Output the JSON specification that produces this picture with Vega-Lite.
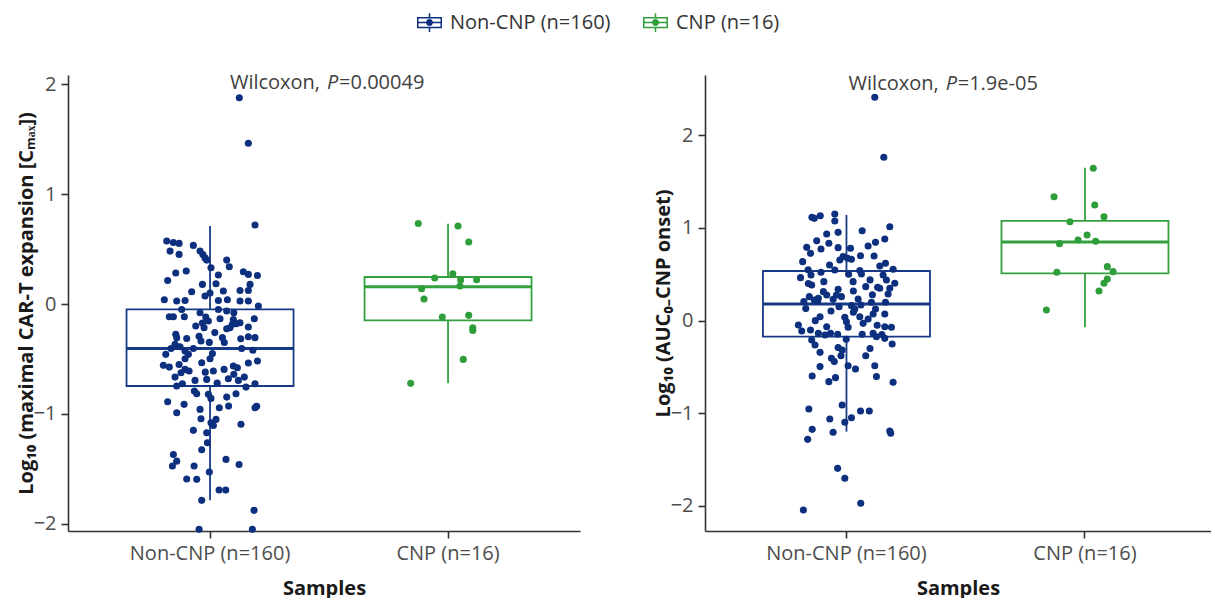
{
  "$schema": "https://vega.github.io/schema/vega-lite/v6.json",
  "padding": {"left": 16, "top": 10, "right": 0, "bottom": 0},
  "spacing": 32,
  "resolve": {"legend": {"color": "independent"}},
  "datasets": {
    "p1": [
      {"g":"Non-CNP (n=160)","v":1.878,"j":0.123},{"g":"Non-CNP (n=160)","v":1.463,"j":0.161},{"g":"Non-CNP (n=160)","v":0.719,"j":0.189},
      {"g":"Non-CNP (n=160)","v":0.574,"j":-0.182},{"g":"Non-CNP (n=160)","v":0.56,"j":-0.154},{"g":"Non-CNP (n=160)","v":0.552,"j":-0.13},
      {"g":"Non-CNP (n=160)","v":0.534,"j":-0.07},{"g":"Non-CNP (n=160)","v":0.482,"j":-0.168},{"g":"Non-CNP (n=160)","v":0.452,"j":-0.13},
      {"g":"Non-CNP (n=160)","v":0.482,"j":-0.042},{"g":"Non-CNP (n=160)","v":0.45,"j":-0.03},{"g":"Non-CNP (n=160)","v":0.42,"j":-0.021},
      {"g":"Non-CNP (n=160)","v":0.4,"j":-0.014},{"g":"Non-CNP (n=160)","v":0.33,"j":0.004},{"g":"Non-CNP (n=160)","v":0.264,"j":0.035},
      {"g":"Non-CNP (n=160)","v":0.4,"j":0.07},{"g":"Non-CNP (n=160)","v":0.34,"j":0.081},{"g":"Non-CNP (n=160)","v":0.294,"j":0.14},
      {"g":"Non-CNP (n=160)","v":0.27,"j":0.161},{"g":"Non-CNP (n=160)","v":0.26,"j":0.199},{"g":"Non-CNP (n=160)","v":0.282,"j":-0.144},
      {"g":"Non-CNP (n=160)","v":0.215,"j":-0.178},{"g":"Non-CNP (n=160)","v":0.179,"j":-0.032},{"g":"Non-CNP (n=160)","v":0.185,"j":0.025},
      {"g":"Non-CNP (n=160)","v":0.179,"j":0.168},{"g":"Non-CNP (n=160)","v":0.124,"j":0.126},{"g":"Non-CNP (n=160)","v":0.124,"j":0.161},
      {"g":"Non-CNP (n=160)","v":0.112,"j":-0.077},{"g":"Non-CNP (n=160)","v":0.118,"j":0.056},{"g":"Non-CNP (n=160)","v":0.073,"j":-0.021},
      {"g":"Non-CNP (n=160)","v":0.039,"j":-0.192},{"g":"Non-CNP (n=160)","v":0.027,"j":-0.14},{"g":"Non-CNP (n=160)","v":0.033,"j":-0.105},
      {"g":"Non-CNP (n=160)","v":0.033,"j":0.035},{"g":"Non-CNP (n=160)","v":0.039,"j":0.073},{"g":"Non-CNP (n=160)","v":0.027,"j":0.126},
      {"g":"Non-CNP (n=160)","v":0.027,"j":0.161},{"g":"Non-CNP (n=160)","v":-0.018,"j":0.203},{"g":"Non-CNP (n=160)","v":-0.049,"j":0.035},
      {"g":"Non-CNP (n=160)","v":-0.049,"j":-0.119},{"g":"Non-CNP (n=160)","v":-0.079,"j":-0.042},{"g":"Non-CNP (n=160)","v":-0.064,"j":0.07},
      {"g":"Non-CNP (n=160)","v":-0.115,"j":-0.171},{"g":"Non-CNP (n=160)","v":-0.115,"j":-0.154},{"g":"Non-CNP (n=160)","v":-0.115,"j":-0.108},
      {"g":"Non-CNP (n=160)","v":-0.118,"j":-0.018},{"g":"Non-CNP (n=160)","v":-0.134,"j":0.042},{"g":"Non-CNP (n=160)","v":-0.14,"j":0.098},
      {"g":"Non-CNP (n=160)","v":-0.134,"j":0.186},{"g":"Non-CNP (n=160)","v":-0.185,"j":0.094},{"g":"Non-CNP (n=160)","v":-0.17,"j":0.126},
      {"g":"Non-CNP (n=160)","v":-0.209,"j":0.161},{"g":"Non-CNP (n=160)","v":-0.173,"j":-0.032},{"g":"Non-CNP (n=160)","v":-0.155,"j":-0.007},
      {"g":"Non-CNP (n=160)","v":-0.215,"j":-0.025},{"g":"Non-CNP (n=160)","v":-0.215,"j":0.084},{"g":"Non-CNP (n=160)","v":-0.225,"j":0.07},
      {"g":"Non-CNP (n=160)","v":-0.276,"j":-0.144},{"g":"Non-CNP (n=160)","v":-0.306,"j":-0.14},{"g":"Non-CNP (n=160)","v":-0.294,"j":-0.046},
      {"g":"Non-CNP (n=160)","v":-0.313,"j":-0.098},{"g":"Non-CNP (n=160)","v":-0.306,"j":0.052},{"g":"Non-CNP (n=160)","v":-0.316,"j":0.129},
      {"g":"Non-CNP (n=160)","v":-0.297,"j":0.161},{"g":"Non-CNP (n=160)","v":-0.306,"j":0.189},{"g":"Non-CNP (n=160)","v":-0.337,"j":-0.038},
      {"g":"Non-CNP (n=160)","v":-0.349,"j":-0.003},{"g":"Non-CNP (n=160)","v":-0.367,"j":-0.147},{"g":"Non-CNP (n=160)","v":-0.388,"j":-0.126},
      {"g":"Non-CNP (n=160)","v":-0.404,"j":-0.164},{"g":"Non-CNP (n=160)","v":-0.404,"j":-0.07},{"g":"Non-CNP (n=160)","v":-0.428,"j":-0.105},
      {"g":"Non-CNP (n=160)","v":-0.404,"j":0.133},{"g":"Non-CNP (n=160)","v":-0.458,"j":-0.186},{"g":"Non-CNP (n=160)","v":-0.458,"j":-0.091},
      {"g":"Non-CNP (n=160)","v":-0.498,"j":-0.105},{"g":"Non-CNP (n=160)","v":-0.498,"j":0.0},{"g":"Non-CNP (n=160)","v":-0.558,"j":-0.196},
      {"g":"Non-CNP (n=160)","v":-0.574,"j":-0.171},{"g":"Non-CNP (n=160)","v":-0.534,"j":-0.035},{"g":"Non-CNP (n=160)","v":-0.595,"j":-0.105},
      {"g":"Non-CNP (n=160)","v":-0.625,"j":-0.122},{"g":"Non-CNP (n=160)","v":-0.61,"j":-0.088},{"g":"Non-CNP (n=160)","v":-0.61,"j":0.014},
      {"g":"Non-CNP (n=160)","v":-0.595,"j":0.059},{"g":"Non-CNP (n=160)","v":-0.564,"j":0.098},{"g":"Non-CNP (n=160)","v":-0.58,"j":0.115},
      {"g":"Non-CNP (n=160)","v":-0.537,"j":0.161},{"g":"Non-CNP (n=160)","v":-0.519,"j":0.199},{"g":"Non-CNP (n=160)","v":-0.665,"j":-0.147},
      {"g":"Non-CNP (n=160)","v":-0.695,"j":-0.063},{"g":"Non-CNP (n=160)","v":-0.686,"j":-0.014},{"g":"Non-CNP (n=160)","v":-0.68,"j":0.077},
      {"g":"Non-CNP (n=160)","v":-0.695,"j":0.119},{"g":"Non-CNP (n=160)","v":-0.665,"j":0.144},{"g":"Non-CNP (n=160)","v":-0.725,"j":0.189},
      {"g":"Non-CNP (n=160)","v":-0.725,"j":-0.116},{"g":"Non-CNP (n=160)","v":-0.746,"j":-0.14},{"g":"Non-CNP (n=160)","v":-0.756,"j":0.151},
      {"g":"Non-CNP (n=160)","v":-0.792,"j":-0.066},{"g":"Non-CNP (n=160)","v":-0.816,"j":-0.056},{"g":"Non-CNP (n=160)","v":-0.822,"j":-0.007},
      {"g":"Non-CNP (n=160)","v":-0.859,"j":0.004},{"g":"Non-CNP (n=160)","v":-0.816,"j":0.109},{"g":"Non-CNP (n=160)","v":-0.847,"j":0.07},
      {"g":"Non-CNP (n=160)","v":-0.889,"j":-0.178},{"g":"Non-CNP (n=160)","v":-0.913,"j":-0.109},{"g":"Non-CNP (n=160)","v":-0.944,"j":0.039},
      {"g":"Non-CNP (n=160)","v":-0.929,"j":0.078},{"g":"Non-CNP (n=160)","v":-0.944,"j":0.189},{"g":"Non-CNP (n=160)","v":-0.93,"j":0.196},
      {"g":"Non-CNP (n=160)","v":-0.989,"j":-0.14},{"g":"Non-CNP (n=160)","v":-0.959,"j":-0.042},{"g":"Non-CNP (n=160)","v":-1.044,"j":-0.038},
      {"g":"Non-CNP (n=160)","v":-1.05,"j":0.025},{"g":"Non-CNP (n=160)","v":-1.08,"j":0.004},{"g":"Non-CNP (n=160)","v":-1.105,"j":0.014},
      {"g":"Non-CNP (n=160)","v":-1.095,"j":0.13},{"g":"Non-CNP (n=160)","v":-1.15,"j":-0.07},{"g":"Non-CNP (n=160)","v":-1.171,"j":-0.014},
      {"g":"Non-CNP (n=160)","v":-1.262,"j":-0.011},{"g":"Non-CNP (n=160)","v":-1.326,"j":-0.035},{"g":"Non-CNP (n=160)","v":-1.369,"j":-0.154},
      {"g":"Non-CNP (n=160)","v":-1.43,"j":-0.14},{"g":"Non-CNP (n=160)","v":-1.475,"j":-0.158},{"g":"Non-CNP (n=160)","v":-1.475,"j":-0.067},
      {"g":"Non-CNP (n=160)","v":-1.414,"j":0.067},{"g":"Non-CNP (n=160)","v":-1.46,"j":0.122},{"g":"Non-CNP (n=160)","v":-1.529,"j":-0.003},
      {"g":"Non-CNP (n=160)","v":-1.593,"j":-0.098},{"g":"Non-CNP (n=160)","v":-1.596,"j":-0.056},{"g":"Non-CNP (n=160)","v":-1.693,"j":0.038},
      {"g":"Non-CNP (n=160)","v":-1.693,"j":0.066},{"g":"Non-CNP (n=160)","v":-1.787,"j":-0.035},{"g":"Non-CNP (n=160)","v":-1.878,"j":0.185},
      {"g":"Non-CNP (n=160)","v":-2.051,"j":-0.046},{"g":"Non-CNP (n=160)","v":-2.051,"j":0.178},
      {"g":"Non-CNP (n=160)","v":-0.18,"j":0.11},{"g":"Non-CNP (n=160)","v":-0.26,"j":0.02},{"g":"Non-CNP (n=160)","v":-0.45,"j":0.01},
      {"g":"Non-CNP (n=160)","v":-0.62,"j":-0.02},{"g":"Non-CNP (n=160)","v":-0.64,"j":0.1},{"g":"Non-CNP (n=160)","v":-0.35,"j":0.06},
      {"g":"Non-CNP (n=160)","v":-0.55,"j":-0.13},{"g":"Non-CNP (n=160)","v":-0.08,"j":0.1},{"g":"Non-CNP (n=160)","v":0.3,"j":-0.1},
      {"g":"Non-CNP (n=160)","v":-0.72,"j":0.03},{"g":"Non-CNP (n=160)","v":-0.2,"j":-0.06},{"g":"Non-CNP (n=160)","v":-0.42,"j":0.18},
      {"g":"Non-CNP (n=160)","v":0.1,"j":0.0},
      {"g":"CNP (n=16)","v":0.734,"j":-0.125},{"g":"CNP (n=16)","v":0.71,"j":0.042},{"g":"CNP (n=16)","v":0.564,"j":0.087},
      {"g":"CNP (n=16)","v":0.276,"j":0.02},{"g":"CNP (n=16)","v":0.237,"j":-0.056},{"g":"CNP (n=16)","v":0.218,"j":0.053},
      {"g":"CNP (n=16)","v":0.221,"j":0.12},{"g":"CNP (n=16)","v":0.164,"j":0.05},{"g":"CNP (n=16)","v":0.14,"j":-0.111},
      {"g":"CNP (n=16)","v":0.046,"j":-0.101},{"g":"CNP (n=16)","v":-0.118,"j":-0.024},{"g":"CNP (n=16)","v":-0.103,"j":0.087},
      {"g":"CNP (n=16)","v":-0.215,"j":0.104},{"g":"CNP (n=16)","v":-0.24,"j":0.104},{"g":"CNP (n=16)","v":-0.504,"j":0.064},
      {"g":"CNP (n=16)","v":-0.722,"j":-0.157}
    ],
    "p2": [
      {"g":"Non-CNP (n=160)","v":2.41,"j":0.12},{"g":"Non-CNP (n=160)","v":1.763,"j":0.158},{"g":"Non-CNP (n=160)","v":1.115,"j":-0.144},
      {"g":"Non-CNP (n=160)","v":1.104,"j":-0.134},{"g":"Non-CNP (n=160)","v":1.133,"j":-0.109},{"g":"Non-CNP (n=160)","v":1.151,"j":-0.048},
      {"g":"Non-CNP (n=160)","v":1.076,"j":-0.048},{"g":"Non-CNP (n=160)","v":0.953,"j":-0.034},{"g":"Non-CNP (n=160)","v":0.971,"j":0.067},
      {"g":"Non-CNP (n=160)","v":1.014,"j":0.183},{"g":"Non-CNP (n=160)","v":0.881,"j":0.162},{"g":"Non-CNP (n=160)","v":0.845,"j":0.123},
      {"g":"Non-CNP (n=160)","v":0.806,"j":0.092},{"g":"Non-CNP (n=160)","v":0.935,"j":-0.082},{"g":"Non-CNP (n=160)","v":0.863,"j":-0.124},
      {"g":"Non-CNP (n=160)","v":0.835,"j":-0.073},{"g":"Non-CNP (n=160)","v":0.791,"j":-0.166},{"g":"Non-CNP (n=160)","v":0.727,"j":-0.15},
      {"g":"Non-CNP (n=160)","v":0.773,"j":-0.106},{"g":"Non-CNP (n=160)","v":0.788,"j":-0.034},{"g":"Non-CNP (n=160)","v":0.781,"j":0.018},
      {"g":"Non-CNP (n=160)","v":0.691,"j":-0.013},{"g":"Non-CNP (n=160)","v":0.673,"j":0.006},{"g":"Non-CNP (n=160)","v":0.655,"j":-0.027},
      {"g":"Non-CNP (n=160)","v":0.662,"j":0.022},{"g":"Non-CNP (n=160)","v":0.637,"j":-0.183},{"g":"Non-CNP (n=160)","v":0.698,"j":0.117},
      {"g":"Non-CNP (n=160)","v":0.619,"j":0.165},{"g":"Non-CNP (n=160)","v":0.59,"j":0.141},{"g":"Non-CNP (n=160)","v":0.554,"j":0.197},
      {"g":"Non-CNP (n=160)","v":0.547,"j":-0.048},{"g":"Non-CNP (n=160)","v":0.522,"j":-0.106},{"g":"Non-CNP (n=160)","v":0.54,"j":0.057},
      {"g":"Non-CNP (n=160)","v":0.504,"j":0.064},{"g":"Non-CNP (n=160)","v":0.493,"j":-0.148},{"g":"Non-CNP (n=160)","v":0.464,"j":-0.192},
      {"g":"Non-CNP (n=160)","v":0.493,"j":0.155},{"g":"Non-CNP (n=160)","v":0.439,"j":0.169},{"g":"Non-CNP (n=160)","v":0.403,"j":0.204},
      {"g":"Non-CNP (n=160)","v":0.349,"j":0.183},{"g":"Non-CNP (n=160)","v":0.349,"j":0.141},{"g":"Non-CNP (n=160)","v":0.36,"j":0.132},
      {"g":"Non-CNP (n=160)","v":0.288,"j":0.176},{"g":"Non-CNP (n=160)","v":0.338,"j":-0.034},{"g":"Non-CNP (n=160)","v":0.421,"j":0.029},
      {"g":"Non-CNP (n=160)","v":0.367,"j":0.082},{"g":"Non-CNP (n=160)","v":0.421,"j":-0.094},{"g":"Non-CNP (n=160)","v":0.385,"j":-0.145},
      {"g":"Non-CNP (n=160)","v":0.4,"j":-0.159},{"g":"Non-CNP (n=160)","v":0.313,"j":-0.096},{"g":"Non-CNP (n=160)","v":0.277,"j":-0.041},
      {"g":"Non-CNP (n=160)","v":0.259,"j":-0.02},{"g":"Non-CNP (n=160)","v":0.277,"j":-0.082},{"g":"Non-CNP (n=160)","v":0.259,"j":-0.155},
      {"g":"Non-CNP (n=160)","v":0.241,"j":-0.117},{"g":"Non-CNP (n=160)","v":0.223,"j":-0.134},{"g":"Non-CNP (n=160)","v":0.205,"j":-0.178},
      {"g":"Non-CNP (n=160)","v":0.23,"j":-0.055},{"g":"Non-CNP (n=160)","v":0.234,"j":0.05},{"g":"Non-CNP (n=160)","v":0.198,"j":0.106},
      {"g":"Non-CNP (n=160)","v":0.198,"j":0.165},{"g":"Non-CNP (n=160)","v":0.162,"j":0.022},{"g":"Non-CNP (n=160)","v":0.169,"j":0.062},
      {"g":"Non-CNP (n=160)","v":0.126,"j":0.036},{"g":"Non-CNP (n=160)","v":0.126,"j":0.123},{"g":"Non-CNP (n=160)","v":0.104,"j":-0.064},
      {"g":"Non-CNP (n=160)","v":0.072,"j":0.113},{"g":"Non-CNP (n=160)","v":0.072,"j":0.162},{"g":"Non-CNP (n=160)","v":0.043,"j":-0.11},
      {"g":"Non-CNP (n=160)","v":0.036,"j":-0.006},{"g":"Non-CNP (n=160)","v":0.043,"j":0.057},{"g":"Non-CNP (n=160)","v":0.018,"j":0.092},
      {"g":"Non-CNP (n=160)","v":-0.047,"j":-0.201},{"g":"Non-CNP (n=160)","v":-0.011,"j":0.001},{"g":"Non-CNP (n=160)","v":-0.029,"j":0.071},
      {"g":"Non-CNP (n=160)","v":-0.065,"j":-0.082},{"g":"Non-CNP (n=160)","v":-0.072,"j":0.008},{"g":"Non-CNP (n=160)","v":-0.065,"j":0.162},
      {"g":"Non-CNP (n=160)","v":-0.072,"j":0.19},{"g":"Non-CNP (n=160)","v":-0.112,"j":-0.187},{"g":"Non-CNP (n=160)","v":-0.137,"j":-0.117},
      {"g":"Non-CNP (n=160)","v":-0.155,"j":-0.089},{"g":"Non-CNP (n=160)","v":-0.137,"j":-0.066},{"g":"Non-CNP (n=160)","v":-0.147,"j":-0.036},
      {"g":"Non-CNP (n=160)","v":-0.147,"j":0.067},{"g":"Non-CNP (n=160)","v":-0.137,"j":0.113},{"g":"Non-CNP (n=160)","v":-0.173,"j":0.127},
      {"g":"Non-CNP (n=160)","v":-0.191,"j":0.162},{"g":"Non-CNP (n=160)","v":-0.209,"j":-0.145},{"g":"Non-CNP (n=160)","v":-0.263,"j":-0.131},
      {"g":"Non-CNP (n=160)","v":-0.252,"j":0.193},{"g":"Non-CNP (n=160)","v":-0.291,"j":-0.034},{"g":"Non-CNP (n=160)","v":-0.317,"j":-0.017},
      {"g":"Non-CNP (n=160)","v":-0.342,"j":-0.11},{"g":"Non-CNP (n=160)","v":-0.378,"j":-0.022},{"g":"Non-CNP (n=160)","v":-0.406,"j":-0.062},
      {"g":"Non-CNP (n=160)","v":-0.378,"j":0.082},{"g":"Non-CNP (n=160)","v":-0.442,"j":-0.05},{"g":"Non-CNP (n=160)","v":-0.486,"j":0.008},
      {"g":"Non-CNP (n=160)","v":-0.522,"j":0.039},{"g":"Non-CNP (n=160)","v":-0.496,"j":-0.11},{"g":"Non-CNP (n=160)","v":-0.486,"j":0.12},
      {"g":"Non-CNP (n=160)","v":-0.597,"j":-0.143},{"g":"Non-CNP (n=160)","v":-0.615,"j":-0.045},{"g":"Non-CNP (n=160)","v":-0.658,"j":-0.073},
      {"g":"Non-CNP (n=160)","v":-0.604,"j":0.127},{"g":"Non-CNP (n=160)","v":-0.665,"j":0.197},{"g":"Non-CNP (n=160)","v":-0.91,"j":-0.017},
      {"g":"Non-CNP (n=160)","v":-0.953,"j":-0.157},{"g":"Non-CNP (n=160)","v":-0.975,"j":0.06},{"g":"Non-CNP (n=160)","v":-0.975,"j":0.097},
      {"g":"Non-CNP (n=160)","v":-1.061,"j":-0.069},{"g":"Non-CNP (n=160)","v":-1.047,"j":0.022},{"g":"Non-CNP (n=160)","v":-1.097,"j":-0.006},
      {"g":"Non-CNP (n=160)","v":-1.173,"j":-0.143},{"g":"Non-CNP (n=160)","v":-1.205,"j":-0.055},{"g":"Non-CNP (n=160)","v":-1.191,"j":0.183},
      {"g":"Non-CNP (n=160)","v":-1.216,"j":0.187},{"g":"Non-CNP (n=160)","v":-1.281,"j":-0.162},{"g":"Non-CNP (n=160)","v":-1.594,"j":-0.036},
      {"g":"Non-CNP (n=160)","v":-1.701,"j":-0.006},{"g":"Non-CNP (n=160)","v":-1.971,"j":0.061},{"g":"Non-CNP (n=160)","v":-2.043,"j":-0.18},
      {"g":"Non-CNP (n=160)","v":0.13,"j":-0.17},{"g":"Non-CNP (n=160)","v":0.21,"j":-0.12},{"g":"Non-CNP (n=160)","v":0.28,"j":0.11},
      {"g":"Non-CNP (n=160)","v":0.5,"j":0.01},{"g":"Non-CNP (n=160)","v":0.6,"j":-0.07},{"g":"Non-CNP (n=160)","v":0.09,"j":0.03},
      {"g":"Non-CNP (n=160)","v":-0.1,"j":-0.15},{"g":"Non-CNP (n=160)","v":-0.05,"j":0.13},{"g":"Non-CNP (n=160)","v":0.32,"j":0.03},
      {"g":"Non-CNP (n=160)","v":0.15,"j":-0.03},{"g":"Non-CNP (n=160)","v":-0.2,"j":0.0},{"g":"Non-CNP (n=160)","v":0.7,"j":0.06},
      {"g":"Non-CNP (n=160)","v":0.44,"j":0.1},{"g":"Non-CNP (n=160)","v":-0.3,"j":0.1},{"g":"Non-CNP (n=160)","v":-0.15,"j":0.15},
      {"g":"Non-CNP (n=160)","v":0.0,"j":-0.13},{"g":"Non-CNP (n=160)","v":0.55,"j":-0.16},
      {"g":"CNP (n=16)","v":1.644,"j":0.036},{"g":"CNP (n=16)","v":1.338,"j":-0.129},{"g":"CNP (n=16)","v":1.248,"j":0.042},
      {"g":"CNP (n=16)","v":1.122,"j":0.081},{"g":"CNP (n=16)","v":1.068,"j":-0.062},{"g":"CNP (n=16)","v":0.924,"j":0.01},
      {"g":"CNP (n=16)","v":0.871,"j":-0.028},{"g":"CNP (n=16)","v":0.856,"j":0.046},{"g":"CNP (n=16)","v":0.831,"j":-0.106},
      {"g":"CNP (n=16)","v":0.583,"j":0.095},{"g":"CNP (n=16)","v":0.529,"j":0.119},{"g":"CNP (n=16)","v":0.522,"j":-0.117},
      {"g":"CNP (n=16)","v":0.45,"j":0.095},{"g":"CNP (n=16)","v":0.403,"j":0.081},{"g":"CNP (n=16)","v":0.32,"j":0.06},
      {"g":"CNP (n=16)","v":0.115,"j":-0.161}
    ],
    "b1": [
      {"g":"Non-CNP (n=160)","lo":-1.787,"q1":-0.746,"med":-0.404,"q3":-0.049,"hi":0.71},
      {"g":"CNP (n=16)","lo":-0.722,"q1":-0.149,"med":0.158,"q3":0.246,"hi":0.73}
    ],
    "b2": [
      {"g":"Non-CNP (n=160)","lo":-1.198,"q1":-0.173,"med":0.18,"q3":0.536,"hi":1.14},
      {"g":"CNP (n=16)","lo":-0.072,"q1":0.511,"med":0.849,"q3":1.076,"hi":1.651}
    ],
    "t1": [{"a":"Wilcoxon,","b":"P","c":"=0.00049"}],
    "t2": [{"a":"Wilcoxon,","b":"P","c":"=1.9e-05"}]
  },
  "config": {
    "font": "Open Sans",
    "view": {"stroke": null},
    "axis": {
      "grid": false, "labelFont": "Open Sans", "labelFontSize": 20, "labelColor": "#4d4d4d",
      "titleFont": "Open Sans", "titleFontSize": 20, "titleFontWeight": "bold", "titleColor": "#1a1a1a",
      "domainColor": "#333333", "domainWidth": 1.6, "tickColor": "#333333", "tickWidth": 1.6, "tickSize": 7
    },
    "axisY": {"labelPadding": 5, "titlePadding": -3},
    "axisX": {"labelPadding": 5, "titlePadding": 15}
  },
  "hconcat": [
    {
      "width": 512, "height": 456,
      "encoding": {
        "x": {"field": "g", "type": "nominal", "sort": ["Non-CNP (n=160)", "CNP (n=16)"],
              "scale": {"domain": ["Non-CNP (n=160)", "CNP (n=16)"], "paddingInner": 0, "paddingOuter": 0.0756, "align": 0.64},
              "axis": {"title": "Samples", "labelAngle": 0}}
      },
      "layer": [
        {"data": {"name": "b1"}, "mark": {"type": "rule", "strokeWidth": 1.8},
         "encoding": {
           "y": {"field": "lo", "type": "quantitative", "title": "Log₁₀ (maximal CAR-T expansion [Cₘₐₓ])",
                 "scale": {"domain": [-2.066, 2.085], "nice": false, "zero": false},
                 "axis": {"values": [-2, -1, 0, 1, 2], "format": "d"}},
           "y2": {"field": "hi"},
           "stroke": {"field": "g", "type": "nominal", "scale": {"domain": ["Non-CNP (n=160)", "CNP (n=16)"], "range": ["#163a86", "#34a040"]}, "legend": null}
         }},
        {"data": {"name": "b1"}, "mark": {"type": "bar", "width": 167, "fill": "white", "strokeWidth": 1.8},
         "encoding": {
           "y": {"field": "q1", "type": "quantitative", "title": "Log₁₀ (maximal CAR-T expansion [Cₘₐₓ])"},
           "y2": {"field": "q3"},
           "stroke": {"field": "g", "type": "nominal", "scale": {"domain": ["Non-CNP (n=160)", "CNP (n=16)"], "range": ["#163a86", "#34a040"]}, "legend": null}
         }},
        {"data": {"name": "b1"}, "mark": {"type": "tick", "size": 167, "thickness": 3, "opacity": 1},
         "encoding": {
           "y": {"field": "med", "type": "quantitative", "title": "Log₁₀ (maximal CAR-T expansion [Cₘₐₓ])"},
           "fill": {"field": "g", "type": "nominal", "scale": {"domain": ["Non-CNP (n=160)", "CNP (n=16)"], "range": ["#163a86", "#34a040"]}, "legend": null}
         }},
        {"data": {"name": "p1"}, "mark": {"type": "circle", "size": 50, "opacity": 1},
         "encoding": {
           "xOffset": {"field": "j", "type": "quantitative", "scale": {"domain": [-0.5, 0.5]}},
           "y": {"field": "v", "type": "quantitative", "title": "Log₁₀ (maximal CAR-T expansion [Cₘₐₓ])"},
           "color": {"field": "g", "type": "nominal", "scale": {"domain": ["Non-CNP (n=160)", "CNP (n=16)"], "range": ["#0c2f7e", "#2e9e3a"]},
             "legend": {
               "orient": "none", "legendX": 349, "legendY": -65, "direction": "horizontal", "title": null,
               "values": ["Non-CNP (n=160)"],
               "symbolType": "M-1,-0.45L1,-0.45L1,0.45L-1,0.45ZM-0.88,-0.33L-0.88,0.33L0.88,0.33L0.88,-0.33ZM-1,-0.06L1,-0.06L1,0.06L-1,0.06ZM-0.06,-0.75L0.06,-0.75L0.06,-0.45L-0.06,-0.45ZM-0.06,0.45L0.06,0.45L0.06,0.75L-0.06,0.75ZM0.28,0A0.28,0.28,0,1,1,-0.28,0A0.28,0.28,0,1,1,0.28,0Z",
               "symbolSize": 625, "symbolStrokeWidth": 0, "symbolOpacity": 1,
               "labelFont": "Open Sans", "labelFontSize": 20, "labelColor": "#333333", "labelOffset": 8, "labelLimit": 400, "columnPadding": 30
             }}
         }},
        {"data": {"name": "t1"}, "mark": {"type": "text", "align": "right", "baseline": "alphabetic", "fontSize": 20, "color": "#404040", "dx": -9},
         "encoding": {"x": {"datum": "CNP (n=16)", "bandPosition": 0}, "y": {"datum": 1.957}, "text": {"field": "a"}}},
        {"data": {"name": "t1"}, "mark": {"type": "text", "align": "left", "baseline": "alphabetic", "fontSize": 20, "fontStyle": "italic", "color": "#404040", "dx": -2},
         "encoding": {"x": {"datum": "CNP (n=16)", "bandPosition": 0}, "y": {"datum": 1.957}, "text": {"field": "b"}}},
        {"data": {"name": "t1"}, "mark": {"type": "text", "align": "left", "baseline": "alphabetic", "fontSize": 20, "color": "#404040", "dx": 10},
         "encoding": {"x": {"datum": "CNP (n=16)", "bandPosition": 0}, "y": {"datum": 1.957}, "text": {"field": "c"}}}
      ]
    },
    {
      "width": 506, "height": 456,
      "encoding": {
        "x": {"field": "g", "type": "nominal", "sort": ["Non-CNP (n=160)", "CNP (n=16)"],
              "scale": {"domain": ["Non-CNP (n=160)", "CNP (n=16)"], "paddingInner": 0, "paddingOuter": 0.0608, "align": 0.766},
              "axis": {"title": "Samples", "labelAngle": 0}}
      },
      "layer": [
        {"data": {"name": "b2"}, "mark": {"type": "rule", "strokeWidth": 1.8},
         "encoding": {
           "y": {"field": "lo", "type": "quantitative", "title": "Log₁₀ (AUC₀₋CNP onset)",
                 "scale": {"domain": [-2.27, 2.651], "nice": false, "zero": false},
                 "axis": {"values": [-2, -1, 0, 1, 2], "format": "d"}},
           "y2": {"field": "hi"},
           "stroke": {"field": "g", "type": "nominal", "scale": {"domain": ["Non-CNP (n=160)", "CNP (n=16)"], "range": ["#163a86", "#34a040"]}, "legend": null}
         }},
        {"data": {"name": "b2"}, "mark": {"type": "bar", "width": 167, "fill": "white", "strokeWidth": 1.8},
         "encoding": {
           "y": {"field": "q1", "type": "quantitative", "title": "Log₁₀ (AUC₀₋CNP onset)"},
           "y2": {"field": "q3"},
           "stroke": {"field": "g", "type": "nominal", "scale": {"domain": ["Non-CNP (n=160)", "CNP (n=16)"], "range": ["#163a86", "#34a040"]}, "legend": null}
         }},
        {"data": {"name": "b2"}, "mark": {"type": "tick", "size": 167, "thickness": 3, "opacity": 1},
         "encoding": {
           "y": {"field": "med", "type": "quantitative", "title": "Log₁₀ (AUC₀₋CNP onset)"},
           "fill": {"field": "g", "type": "nominal", "scale": {"domain": ["Non-CNP (n=160)", "CNP (n=16)"], "range": ["#163a86", "#34a040"]}, "legend": null}
         }},
        {"data": {"name": "p2"}, "mark": {"type": "circle", "size": 50, "opacity": 1},
         "encoding": {
           "xOffset": {"field": "j", "type": "quantitative", "scale": {"domain": [-0.5, 0.5]}},
           "y": {"field": "v", "type": "quantitative", "title": "Log₁₀ (AUC₀₋CNP onset)"},
           "color": {"field": "g", "type": "nominal", "scale": {"domain": ["Non-CNP (n=160)", "CNP (n=16)"], "range": ["#0c2f7e", "#2e9e3a"]},
             "legend": {
               "orient": "none", "legendX": -62, "legendY": -65, "direction": "horizontal", "title": null,
               "values": ["CNP (n=16)"],
               "symbolType": "M-1,-0.45L1,-0.45L1,0.45L-1,0.45ZM-0.88,-0.33L-0.88,0.33L0.88,0.33L0.88,-0.33ZM-1,-0.06L1,-0.06L1,0.06L-1,0.06ZM-0.06,-0.75L0.06,-0.75L0.06,-0.45L-0.06,-0.45ZM-0.06,0.45L0.06,0.45L0.06,0.75L-0.06,0.75ZM0.28,0A0.28,0.28,0,1,1,-0.28,0A0.28,0.28,0,1,1,0.28,0Z",
               "symbolSize": 625, "symbolStrokeWidth": 0, "symbolOpacity": 1,
               "labelFont": "Open Sans", "labelFontSize": 20, "labelColor": "#333333", "labelOffset": 8, "labelLimit": 400, "columnPadding": 30
             }}
         }},
        {"data": {"name": "t2"}, "mark": {"type": "text", "align": "right", "baseline": "alphabetic", "fontSize": 20, "color": "#404040", "dx": -27},
         "encoding": {"x": {"datum": "CNP (n=16)", "bandPosition": 0}, "y": {"datum": 2.49}, "text": {"field": "a"}}},
        {"data": {"name": "t2"}, "mark": {"type": "text", "align": "left", "baseline": "alphabetic", "fontSize": 20, "fontStyle": "italic", "color": "#404040", "dx": -20},
         "encoding": {"x": {"datum": "CNP (n=16)", "bandPosition": 0}, "y": {"datum": 2.49}, "text": {"field": "b"}}},
        {"data": {"name": "t2"}, "mark": {"type": "text", "align": "left", "baseline": "alphabetic", "fontSize": 20, "color": "#404040", "dx": -8},
         "encoding": {"x": {"datum": "CNP (n=16)", "bandPosition": 0}, "y": {"datum": 2.49}, "text": {"field": "c"}}}
      ]
    }
  ]
}
